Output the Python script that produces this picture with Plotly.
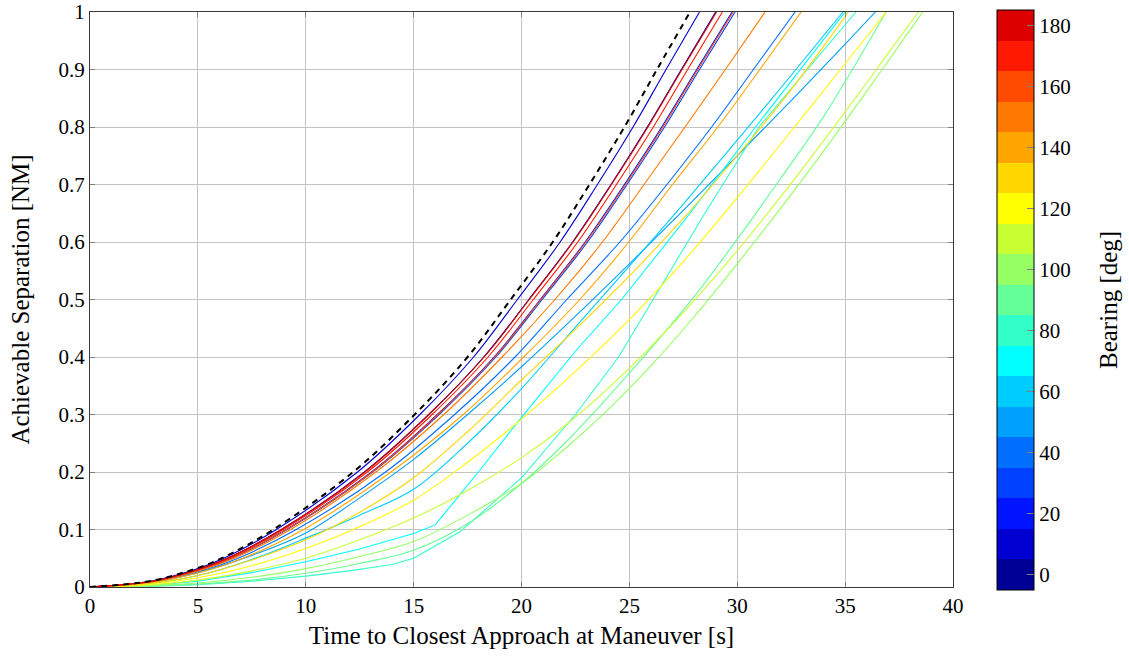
import plotly.graph_objects as go

# ---------------- data ----------------
Y_LEVELS = [0, 0.01, 0.03, 0.05, 0.1, 0.2, 0.3, 0.4, 0.5, 0.6, 0.7, 0.8, 0.9, 1.0]

T_DASH = [0, 2.75, 4.75, 6.1, 8.5, 12.2, 15.05, 17.5, 19.5, 21.45, 23.15, 24.77, 26.28, 27.81]
T_010 = [0, 2.79, 4.83, 6.2, 8.64, 12.4, 15.29, 17.78, 19.81, 21.79, 23.52, 25.17, 26.7, 28.25]
T_000 = [0, 2.87, 4.95, 6.36, 8.87, 12.72, 15.7, 18.25, 20.34, 22.37, 24.15, 25.83, 27.41, 29.0]
T_180 = [0, 2.87, 4.96, 6.37, 8.87, 12.74, 15.71, 18.27, 20.36, 22.39, 24.17, 25.86, 27.44, 29.04]
T_170 = [0, 2.9, 5.0, 6.43, 8.96, 12.86, 15.86, 18.45, 20.55, 22.61, 24.4, 26.11, 27.7, 29.31]
T_020 = [0, 2.94, 5.08, 6.53, 9.1, 13.05, 16.1, 18.73, 20.87, 22.95, 24.77, 26.5, 28.12, 29.76]
T_030 = [0, 2.96, 5.1, 6.56, 9.14, 13.1, 16.18, 18.81, 20.96, 23.06, 24.89, 26.63, 28.25, 29.9]
T_160 = [0, 2.95, 5.09, 6.54, 9.11, 13.08, 16.13, 18.76, 20.9, 22.99, 24.82, 26.55, 28.17, 29.81]
T_150 = [0, 3.0, 5.2, 6.68, 9.3, 13.25, 16.4, 19.1, 21.55, 23.75, 25.68, 27.58, 29.45, 31.29]
T_040 = [0, 3.09, 5.34, 6.86, 9.56, 13.7, 16.9, 19.7, 22.1, 24.56, 26.74, 28.81, 30.75, 32.68]
T_140 = [0, 3.2, 5.55, 7.1, 9.9, 13.95, 17.3, 20.1, 22.7, 24.97, 27.0, 29.1, 31.05, 32.96]

T_050 = [0, 2.5, 5, 7.5, 10, 12.5, 15, 17.5, 20, 22.5, 25, 27.5, 30, 32.5, 35, 36.4]
Y_050 = [0, 0.006, 0.025, 0.055, 0.094, 0.155, 0.222, 0.3, 0.383, 0.471, 0.562, 0.655, 0.75, 0.846, 0.944, 1.0]
T_060 = [0, 2.5, 5, 7.5, 10, 12.5, 15, 17.5, 20, 22.5, 25, 27.5, 30, 32.5, 34.9]
Y_060 = [0, 0.005, 0.02, 0.048, 0.085, 0.125, 0.17, 0.25, 0.345, 0.452, 0.558, 0.666, 0.777, 0.89, 1.0]
T_070 = [0, 2.5, 5, 7.5, 10, 12.5, 15, 16, 18, 20, 22.5, 24.64, 27.5, 30.85, 35.0]
Y_070 = [0, 0.002, 0.01, 0.025, 0.044, 0.066, 0.093, 0.108, 0.2, 0.295, 0.41, 0.5, 0.635, 0.8, 1.0]
T_080 = [0, 2.5, 5, 7.5, 10, 12, 14, 15, 17.15, 20, 22.5, 24.5, 26.1, 28.5, 31.0, 35.5]
Y_080 = [0, 0.001, 0.004, 0.01, 0.019, 0.028, 0.039, 0.05, 0.096, 0.19, 0.3, 0.4, 0.5, 0.65, 0.8, 1.0]
T_090 = [0, 2.5, 5, 7.5, 10, 12.5, 15, 17.5, 20, 22, 24, 26, 28, 30, 32, 34, 36.9]
Y_090 = [0, 0.001, 0.005, 0.012, 0.024, 0.041, 0.064, 0.11, 0.18, 0.25, 0.33, 0.415, 0.505, 0.605, 0.71, 0.818, 1.0]
T_100 = [0, 2.5, 5, 7.5, 10, 12.5, 15, 17.5, 20, 22, 24, 26, 28, 30, 32, 34, 36, 38, 38.6]
Y_100 = [0, 0.002, 0.007, 0.017, 0.032, 0.053, 0.079, 0.125, 0.18, 0.24, 0.308, 0.385, 0.47, 0.562, 0.658, 0.758, 0.862, 0.968, 1.0]
T_110 = [0, 2.5, 5, 7.5, 10, 12.5, 15, 17.5, 20, 22, 24, 26, 28, 30, 32, 34, 36, 38, 38.4]
Y_110 = [0, 0.003, 0.012, 0.028, 0.05, 0.082, 0.12, 0.168, 0.225, 0.28, 0.345, 0.418, 0.498, 0.585, 0.678, 0.776, 0.877, 0.98, 1.0]
T_120 = [0, 2.5, 5, 7.5, 10, 12.5, 15, 17.5, 20, 22.5, 25, 27.5, 30, 32.5, 35, 36.9]
Y_120 = [0, 0.004, 0.016, 0.037, 0.067, 0.105, 0.151, 0.217, 0.292, 0.375, 0.465, 0.566, 0.677, 0.793, 0.91, 1.0]
T_130 = [0, 2.5, 5, 7.5, 10, 12.5, 15, 17.5, 20, 22.5, 25, 27.5, 30, 32.5, 35, 35.15]
Y_130 = [0, 0.005, 0.02, 0.047, 0.082, 0.13, 0.19, 0.27, 0.36, 0.448, 0.541, 0.641, 0.75, 0.865, 0.992, 1.0]

BEARINGS = [0, 10, 20, 30, 40, 50, 60, 70, 80, 90, 100, 110, 120, 130, 140, 150, 160, 170, 180]
BAND_COLORS = [
    "rgb(0,0,150)", "rgb(0,0,210)", "rgb(0,20,255)", "rgb(0,65,255)", "rgb(0,110,255)",
    "rgb(0,160,255)", "rgb(0,205,255)", "rgb(0,255,255)", "rgb(50,255,200)", "rgb(100,255,150)",
    "rgb(150,255,100)", "rgb(200,255,50)", "rgb(255,255,0)", "rgb(255,215,0)", "rgb(255,165,0)",
    "rgb(255,120,0)", "rgb(255,75,0)", "rgb(255,25,0)", "rgb(220,0,0)",
]
CB_TICKS = [0, 20, 40, 60, 80, 100, 120, 140, 160, 180]
X_TICKS = [0, 5, 10, 15, 20, 25, 30, 35, 40]
Y_TICKS = [0, 0.1, 0.2, 0.3, 0.4, 0.5, 0.6, 0.7, 0.8, 0.9, 1]
Y_TICKTEXT = ["0", "0.1", "0.2", "0.3", "0.4", "0.5", "0.6", "0.7", "0.8", "0.9", "1"]

CURVES = {
    0: (T_000, Y_LEVELS), 10: (T_010, Y_LEVELS), 20: (T_020, Y_LEVELS), 30: (T_030, Y_LEVELS),
    40: (T_040, Y_LEVELS), 50: (T_050, Y_050), 60: (T_060, Y_060), 70: (T_070, Y_070),
    80: (T_080, Y_080), 90: (T_090, Y_090), 100: (T_100, Y_100), 110: (T_110, Y_110),
    120: (T_120, Y_120), 130: (T_130, Y_130), 140: (T_140, Y_LEVELS), 150: (T_150, Y_LEVELS),
    160: (T_160, Y_LEVELS), 170: (T_170, Y_LEVELS), 180: (T_180, Y_LEVELS),
}
KINKED = {70, 80}

FONT = "Liberation Serif"
TICK_SIZE = 21
TITLE_SIZE = 25

fig = go.Figure()
for b, col in zip(BEARINGS, BAND_COLORS):
    t, y = CURVES[b]
    fig.add_trace(go.Scatter(
        x=t, y=y, mode="lines", hoverinfo="skip",
        line=dict(color=col, width=1.1, shape="linear" if b in KINKED else "spline", smoothing=1.0),
    ))

fig.add_trace(go.Scatter(
    x=T_DASH, y=Y_LEVELS, mode="lines", hoverinfo="skip",
    line=dict(color="black", width=2, dash="6px,5px", shape="spline", smoothing=1.0),
))

# colour bar (discrete bands)
n = len(BAND_COLORS)
cs = []
for i, c in enumerate(BAND_COLORS):
    cs.append([i / n, c])
    cs.append([(i + 1) / n, c])
fig.add_trace(go.Scatter(
    x=[0], y=[-1], mode="markers", hoverinfo="skip",
    marker=dict(size=1, color=[90], colorscale=cs, cmin=-5, cmax=185, showscale=True,
                colorbar=dict(
                    x=(997 - 90) / 863, xanchor="left", xpad=0, ypad=0,
                    y=(587 - 300) / 575, yanchor="middle",
                    lenmode="pixels", len=580, thickness=37,
                    outlinewidth=1, outlinecolor="black",
                    tickvals=CB_TICKS, ticks="inside", ticklen=7, tickcolor="#808080",
                    tickfont=dict(family=FONT, size=TICK_SIZE, color="black"),
                )),
))

fig.add_annotation(
    text="Bearing [deg]", xref="paper", yref="paper",
    x=(1108 - 90) / 863, y=(587 - 300) / 575, xanchor="center", yanchor="middle",
    textangle=-90, showarrow=False, font=dict(family=FONT, size=TITLE_SIZE, color="black"),
)

axis_common = dict(
    showgrid=True, gridcolor="#c4c4c4", gridwidth=1,
    showline=True, linecolor="#3a3a3a", linewidth=1.2, mirror="ticks",
    ticks="inside", ticklen=5, tickcolor="#808080",
    zeroline=False, tickfont=dict(family=FONT, size=TICK_SIZE, color="black"),
)
fig.update_xaxes(range=[0, 40], tickvals=X_TICKS, **axis_common,
                 title=dict(text="Time to Closest Approach at Maneuver [s]", standoff=9,
                            font=dict(family=FONT, size=TITLE_SIZE, color="black")))
fig.update_yaxes(range=[0, 1], tickvals=Y_TICKS, ticktext=Y_TICKTEXT, **axis_common,
                 title=dict(text="Achievable Separation [NM]", standoff=21,
                            font=dict(family=FONT, size=TITLE_SIZE, color="black")))

fig.update_layout(
    width=1129, height=658, margin=dict(l=90, r=176, t=12, b=71, autoexpand=False),
    plot_bgcolor="white", paper_bgcolor="white", showlegend=False,
    font=dict(family=FONT, size=TICK_SIZE, color="black"),
)
fig.write_html("out.html")
